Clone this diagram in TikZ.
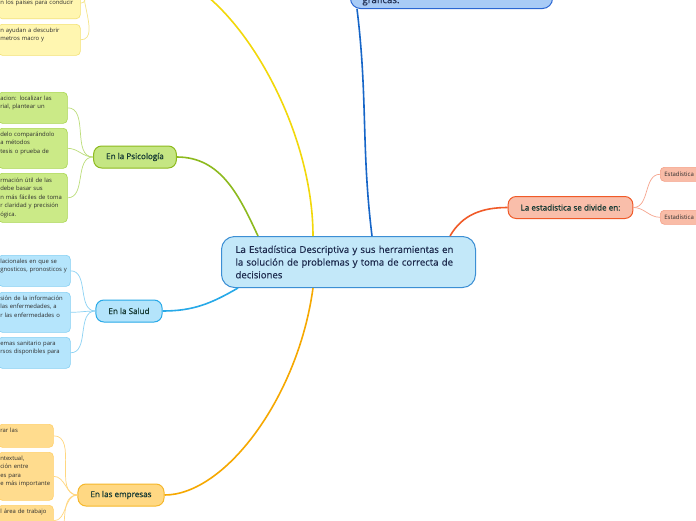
\documentclass[tikz,border=0pt]{standalone}
\usepackage{fontspec}
\setmainfont{Open Sans}
\newfontfamily\topicfont[FakeBold=0.9]{Open Sans}
\newfontfamily\rootfont[FakeBold=0.4]{Open Sans}
\usepackage{tikz}
\usepackage{xcolor}

\definecolor{cfill}{HTML}{C3E8F9}
\definecolor{cline}{HTML}{3C8FD4}
\definecolor{ctext}{HTML}{1D2A4D}
\definecolor{ttext}{HTML}{163A34}
\definecolor{ltext}{HTML}{2D2D2D}
% top branch (blue)
\definecolor{gfill}{HTML}{A8CBF6}
\definecolor{gline}{HTML}{2A66D2}
\definecolor{glink}{HTML}{1766C8}
% economy branch (yellow)
\definecolor{ylink}{HTML}{F2D80A}
\definecolor{yleaf}{HTML}{FFF6B0}
\definecolor{yleafline}{HTML}{F3E173}
\definecolor{yleaflink}{HTML}{F5E58A}
% psychology branch (green)
\definecolor{plink}{HTML}{8DBA1E}
\definecolor{pfill}{HTML}{C5E683}
\definecolor{pleaf}{HTML}{CBEA87}
\definecolor{pleafline}{HTML}{A9D650}
\definecolor{pleaflink}{HTML}{BCDD7A}
% health branch (light blue)
\definecolor{slink}{HTML}{27A9E8}
\definecolor{sfill}{HTML}{B4E4FB}
\definecolor{sleaf}{HTML}{B5E5FC}
\definecolor{sleafline}{HTML}{86D0F3}
\definecolor{sleaflink}{HTML}{8CD2F4}
% business branch (orange)
\definecolor{elink}{HTML}{F6A800}
\definecolor{efill}{HTML}{FFD883}
\definecolor{eline}{HTML}{F5B72A}
\definecolor{eleaf}{HTML}{FFDC8E}
\definecolor{eleafline}{HTML}{FFD06A}
\definecolor{eleaflink}{HTML}{FFD780}
% division branch (salmon)
\definecolor{dlink}{HTML}{F05A28}
\definecolor{dfill}{HTML}{F9BEAA}
\definecolor{dleaf}{HTML}{F9BCA7}
\definecolor{dleafline}{HTML}{F5A189}
\definecolor{dleaflink}{HTML}{F6A58E}

\begin{document}
\begin{tikzpicture}[x=1pt,y=1pt,
  central/.style={draw=cline, fill=cfill, line width=1pt, rounded corners=13pt,
    align=left, text width=226pt, inner xsep=14pt, inner ysep=4pt,
    minimum height=51pt, text=ctext, font=\rootfont\fontsize{9.6}{12.7}\selectfont},
  topbox/.style={draw=gline, fill=gfill, line width=1pt, rounded corners=10pt,
    align=left, text width=178pt, inner xsep=12pt, inner ysep=2pt,
    minimum height=30pt, text=ctext, font=\rootfont\fontsize{9.6}{12.7}\selectfont},
  topic/.style={line width=1pt, rounded corners=8pt, minimum height=22pt,
    inner xsep=12.5pt, inner ysep=2pt, text=ttext,
    font=\topicfont\fontsize{8.1}{10}\selectfont},
  leaf/.style={line width=0.6pt, rounded corners=4pt, align=left, anchor=north west,
    inner xsep=2pt, inner ysep=1pt, text=ltext, font=\fontsize{5.9}{8.6}\selectfont},
  yleafbox/.style={leaf, fill=yleaf, draw=yleafline, text width=78pt},
  pleafbox/.style={leaf, fill=pleaf, draw=pleafline, text width=65pt},
  sleafbox/.style={leaf, fill=sleaf, draw=sleafline, text width=68pt},
  eleafbox/.style={leaf, fill=eleaf, draw=eleafline, text width=51pt},
  dleafbox/.style={leaf, fill=dleaf, draw=dleafline, text width=60pt,
    inner xsep=4pt, minimum height=14pt, font=\fontsize{6}{7}\selectfont},
  mainlink/.style={line width=1.6pt},
  leaflink/.style={line width=0.7pt}
]
\useasboundingbox (0,0) rectangle (696,-520);
\clip (0,0) rectangle (696,-520);
\fill[white] (0,0) rectangle (696,-520);

% centre
\node[central, anchor=north west] (root) at (221,-236)
  {La Estadística Descriptiva y sus herramientas en\\
   la solución de problemas y toma de correcta de\\
   decisiones};

% top node, mostly off the page
\node[topbox, anchor=south west] (graf) at (350,-9) {\strut\\ gráficas.};

% topics
\node[topic, fill=pfill, draw=plink] (psico) at (135,-157) {En la Psicología};
\node[topic, fill=sfill, draw=slink] (salud) at (129,-311) {En la Salud};
\node[topic, fill=efill, draw=eline] (empresa) at (121,-495) {En las empresas};
\node[topic, fill=dfill, draw=dlink] (divide) at (570.5,-207.5) {La estadistica se divide en:};
\coordinate (ecoeast) at (148,30);
\coordinate (ecowest) at (92,20);

% leaves
\node[yleafbox, anchor=south west, minimum height=31pt] (y1) at (-2,-19)
  {\strut\\ n los países para conducir\\ \strut};
\node[yleafbox, minimum height=31pt] (y2) at (-2,-24)
  {n ayudan a descubrir\\ metros macro y\\ \strut};

\node[pleafbox, minimum height=31pt] (p1) at (-2,-92)
  {acion: localizar las\\ rial, plantear un\\ \strut};
\node[pleafbox, minimum height=40pt] (p2) at (-2,-128)
  {delo comparándolo\\ a métodos\\ tesis o prueba de\\ \strut};
\node[pleafbox, minimum height=49pt] (p3) at (-2,-173)
  {rmación útil de las\\ debe basar sus\\ n más fáciles de toma\\ r claridad y precisión\\ ógica.};

\node[sleafbox, minimum height=31pt] (s1) at (-2,-255)
  {lacionales en que se\\ gnosticos, pronosticos y\\ \strut};
\node[sleafbox, minimum height=40pt] (s2) at (-2,-292)
  {sión de la información\\ las enfermedades, a\\ r las enfermedades o\\ \strut};
\node[sleafbox, minimum height=31pt] (s3) at (-2,-337)
  {emas sanitario para\\ rsos disponibles para\\ \strut};

\node[eleafbox, minimum height=23pt] (e1) at (-2,-424)
  {rar las\\ \strut};
\node[eleafbox, minimum height=48pt] (e2) at (-2,-452)
  {ntextual,\\ ción entre\\ es para\\ e más importante\\ \strut};
\node[eleafbox, minimum height=31pt] (e3) at (-2,-505)
  {l área de trabajo\\ \strut\\ \strut};
\coordinate (e4) at (51,-548);

\node[dleafbox] (d1) at (660,-167) {Estadística};
\node[dleafbox] (d2) at (660,-210) {Estadística};

% main links
\draw[mainlink, glink] ([xshift=151pt]root.north west) to[out=97,in=-83] ([xshift=7pt]graf.south west);
\draw[mainlink, ylink] (ecoeast) .. controls +(75,0) and +(0,120) .. ([xshift=92pt]root.north west);
\draw[mainlink, plink] (psico.east) to[out=0,in=115] ([xshift=37pt]root.north west);
\draw[mainlink, slink] (salud.east) to[out=0,in=210] ([xshift=17pt]root.south west);
\draw[mainlink, elink] (empresa.east) .. controls +(60,0) and +(-15,-110) .. ([xshift=92pt]root.south west);
\draw[mainlink, dlink] ([xshift=229pt]root.north west) to[out=60,in=180] (divide.west);

% leaf links
\draw[leaflink, yleaflink] (ecowest) to[out=180,in=0] (y1.east);
\draw[leaflink, yleaflink] (ecowest) to[out=180,in=0] (y2.east);
\draw[leaflink, pleaflink] (psico.west) to[out=180,in=0] (p1.east);
\draw[leaflink, pleaflink] (psico.west) to[out=180,in=0] (p2.east);
\draw[leaflink, pleaflink] (psico.west) to[out=180,in=0] (p3.east);
\draw[leaflink, sleaflink] (salud.west) to[out=180,in=0] (s1.east);
\draw[leaflink, sleaflink] (salud.west) to[out=180,in=0] (s2.east);
\draw[leaflink, sleaflink] (salud.west) to[out=180,in=0] (s3.east);
\draw[leaflink, eleaflink] (empresa.west) to[out=180,in=0] (e1.east);
\draw[leaflink, eleaflink] (empresa.west) to[out=180,in=0] (e2.east);
\draw[leaflink, eleaflink] (empresa.west) to[out=180,in=0] (e3.east);
\draw[leaflink, eleaflink] (empresa.west) to[out=180,in=0] (e4);
\draw[leaflink, dleaflink] (divide.east) to[out=0,in=180] (d1.west);
\draw[leaflink, dleaflink] (divide.east) to[out=0,in=180] (d2.west);
\end{tikzpicture}
\end{document}
